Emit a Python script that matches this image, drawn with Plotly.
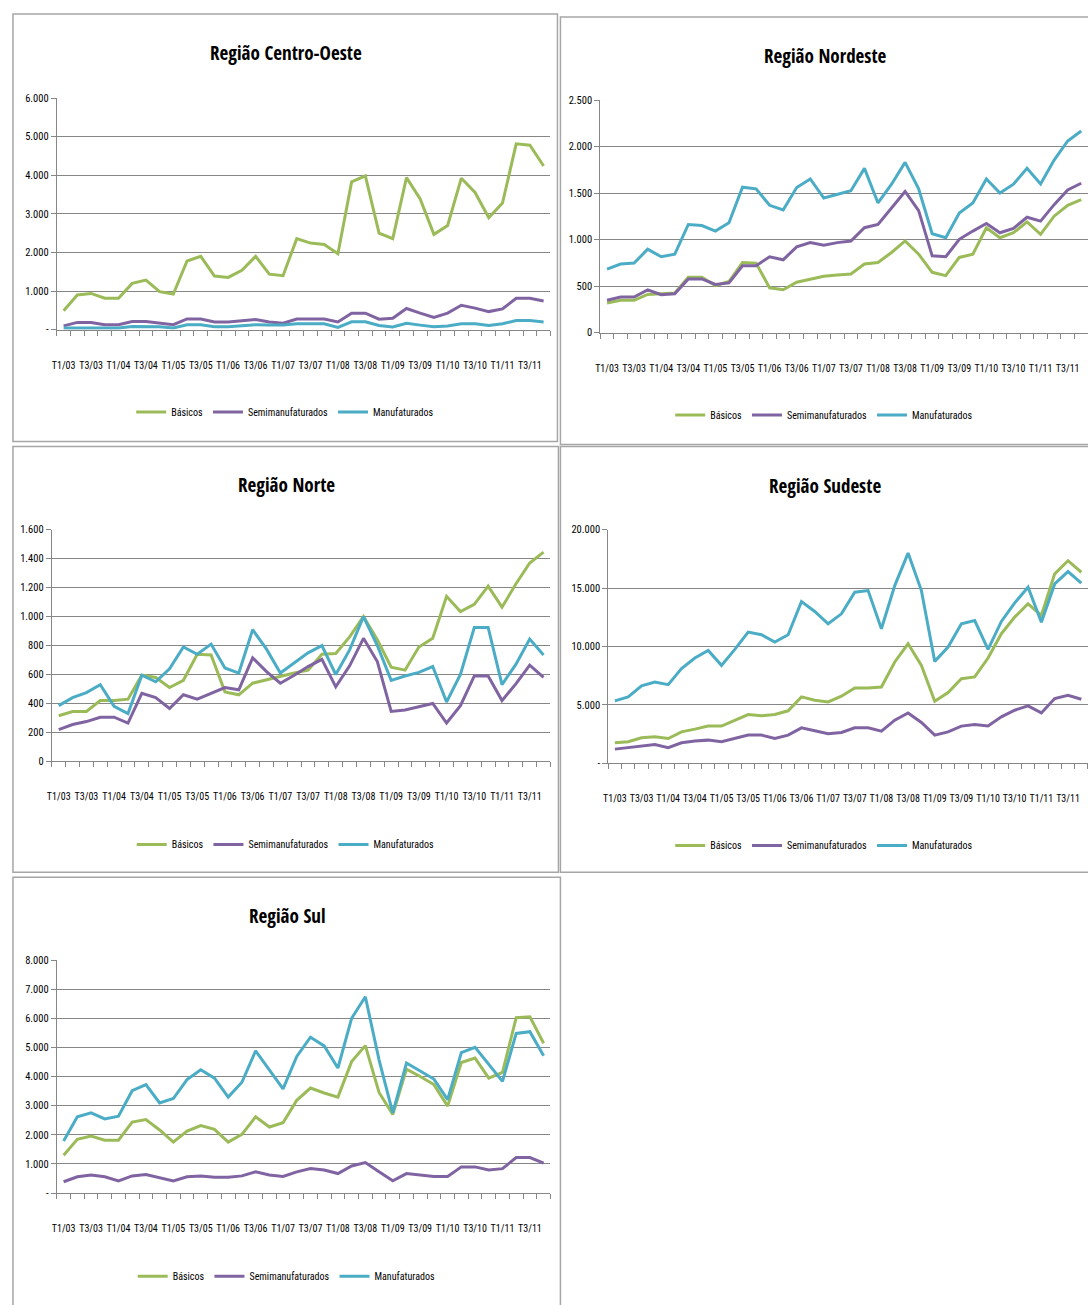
import numpy as np
import plotly.graph_objects as go

QUARTERS = [f"T{q}/{y:02d}" for y in range(3, 12) for q in range(1, 5)]
SERIES_NAMES = ["Básicos", "Semimanufaturados", "Manufaturados"]
COLORS = ["#9BBB59", "#8064A2", "#4BACC6"]

# ---- Região Centro-Oeste ----
co_basicos = [490, 900, 940, 815, 815, 1200, 1285, 985, 925, 1780, 1900, 1390, 1355, 1540, 1900, 1440,
              1400, 2360, 2245, 2210, 1970, 3830, 3985, 2500, 2360, 3940, 3385, 2470, 2700, 3925, 3555, 2900,
              3280, 4815, 4780, 4240]
co_semi = [100, 190, 190, 130, 130, 215, 215, 170, 130, 280, 280, 200, 200, 230, 265, 200,
           170, 275, 275, 275, 200, 430, 430, 275, 300, 550, 430, 320, 430, 635, 560, 470,
           540, 815, 815, 745]
co_manuf = [45, 45, 45, 45, 45, 85, 85, 75, 45, 130, 130, 75, 75, 110, 130, 120,
            120, 155, 155, 155, 60, 205, 205, 110, 70, 170, 120, 75, 100, 155, 155, 110,
            155, 240, 240, 200]

# ---- Região Nordeste ----
ne_basicos = [319, 348, 348, 411, 418, 426, 596, 596, 507, 550, 755, 748, 482, 461, 543, 578,
              606, 621, 631, 738, 755, 862, 986, 844, 649, 613, 809, 844, 1128, 1021, 1074, 1191,
              1057, 1252, 1369, 1429]
ne_semi = [348, 383, 383, 461, 408, 418, 578, 578, 518, 535, 720, 720, 816, 784, 922, 968,
           940, 968, 986, 1128, 1163, 1340, 1518, 1312, 826, 816, 1004, 1092, 1174, 1074, 1121, 1241,
           1199, 1376, 1535, 1606]
ne_manuf = [684, 738, 748, 897, 816, 844, 1163, 1152, 1092, 1181, 1564, 1546, 1369, 1319, 1560, 1652,
            1447, 1489, 1525, 1766, 1394, 1596, 1830, 1546, 1064, 1021, 1287, 1394, 1652, 1500, 1596, 1766,
            1599, 1855, 2060, 2167]

# ---- Região Norte ----
n_basicos = [315, 345, 345, 420, 420, 430, 595, 580, 510, 560, 740, 735, 480, 460, 540, 565,
             590, 610, 630, 740, 745, 860, 1000, 840, 650, 630, 790, 850, 1140, 1035, 1085, 1210,
             1065, 1225, 1370, 1445]
n_semi = [220, 255, 275, 305, 305, 265, 470, 440, 365, 460, 430, 470, 510, 495, 715, 620,
          540, 595, 655, 705, 515, 660, 850, 690, 345, 355, 375, 400, 265, 385, 590, 590,
          420, 535, 665, 580]
n_manuf = [385, 440, 475, 530, 380, 330, 595, 550, 640, 790, 740, 810, 645, 610, 910, 775,
           610, 680, 750, 800, 600, 770, 1000, 800, 560, 590, 615, 655, 410, 600, 925, 925,
           530, 670, 845, 735]

# ---- Região Sudeste ----
se_basicos = [1760, 1850, 2190, 2280, 2130, 2700, 2930, 3190, 3190, 3700, 4180, 4070, 4180, 4500, 5690, 5410,
              5260, 5750, 6460, 6460, 6540, 8680, 10240, 8390, 5320, 6060, 7250, 7400, 9020, 11100, 12520, 13660,
              12660, 16220, 17350, 16360]
se_semi = [1220, 1370, 1510, 1620, 1340, 1760, 1910, 1990, 1850, 2130, 2420, 2420, 2130, 2420, 3040, 2790,
           2530, 2650, 3040, 3040, 2760, 3700, 4320, 3500, 2420, 2700, 3190, 3330, 3210, 3980, 4550, 4920,
           4320, 5550, 5830, 5490]
se_manuf = [5350, 5690, 6630, 6970, 6740, 8110, 9020, 9670, 8390, 9760, 11240, 11010, 10380, 11010, 13850, 13000,
            11950, 12800, 14650, 14790, 11520, 15220, 18000, 14790, 8730, 9960, 11950, 12230, 9760, 12150, 13740, 15080,
            12090, 15360, 16420, 15420]

# ---- Região Sul ----
s_basicos = [1300, 1850, 1960, 1820, 1820, 2440, 2530, 2170, 1750, 2130, 2320, 2190, 1750, 2020, 2620, 2270,
             2420, 3190, 3610, 3440, 3300, 4520, 5070, 3460, 2700, 4260, 4010, 3730, 2990, 4490, 4640, 3950,
             4150, 6030, 6060, 5150]
s_semi = [390, 560, 620, 560, 420, 590, 640, 540, 420, 560, 590, 540, 540, 590, 730, 620,
          570, 730, 840, 790, 670, 930, 1050, 730, 420, 670, 620, 570, 570, 900, 900, 790,
          840, 1220, 1220, 1030]
s_manuf = [1790, 2620, 2760, 2550, 2640, 3520, 3730, 3100, 3250, 3900, 4240, 3950, 3300, 3810, 4890, 4240,
           3580, 4700, 5360, 5060, 4300, 6010, 6750, 4580, 2760, 4470, 4180, 3920, 3210, 4830, 5010, 4410,
           3840, 5490, 5550, 4720]

# y tick labels per region
co_ticks = [0, 1000, 2000, 3000, 4000, 5000, 6000]
co_ticktext = ["-", "1.000", "2.000", "3.000", "4.000", "5.000", "6.000"]
ne_ticks = [0, 500, 1000, 1500, 2000, 2500]
ne_ticktext = ["0", "500", "1.000", "1.500", "2.000", "2.500"]
n_ticks = [0, 200, 400, 600, 800, 1000, 1200, 1400, 1600]
n_ticktext = ["0", "200", "400", "600", "800", "1.000", "1.200", "1.400", "1.600"]
se_ticks = [0, 5000, 10000, 15000, 20000]
se_ticktext = ["-", "5.000", "10.000", "15.000", "20.000"]
s_ticks = [0, 1000, 2000, 3000, 4000, 5000, 6000, 7000, 8000]
s_ticktext = ["-", "1.000", "2.000", "3.000", "4.000", "5.000", "6.000", "7.000", "8.000"]

W, H = 1088, 1305
FONT = "Roboto Condensed, DejaVu Sans Condensed, sans-serif"
TFONT = "Open Sans Condensed, Roboto Condensed, sans-serif"
GRID = "#868686"


def px(x):
    return min(max(x / W, 0), 1)


def py(y):
    return min(max(1 - y / H, 0), 1)


panels = [
    # title, series, ticks, ticktext, box(x0,y0,x1,y1), plot(x0,x1,ytop,ybottom), title y, legend y  (page px)
    ("Região Centro-Oeste", [co_basicos, co_semi, co_manuf], co_ticks, co_ticktext,
     (8, 8, 555, 440), (52, 548, 93, 327), 47, 410),
    ("Região Nordeste", [ne_basicos, ne_semi, ne_manuf], ne_ticks, ne_ticktext,
     (558, 11, 1100, 443), (598, 1088, 95, 330), 50, 413),
    ("Região Norte", [n_basicos, n_semi, n_manuf], n_ticks, n_ticktext,
     (8, 445, 556, 875), (47, 548, 529, 763), 484, 847),
    ("Região Sudeste", [se_basicos, se_semi, se_manuf], se_ticks, se_ticktext,
     (558, 445, 1100, 875), (606, 1088, 529, 765), 485, 848),
    ("Região Sul", [s_basicos, s_semi, s_manuf], s_ticks, s_ticktext,
     (8, 880, 558, 1320), (52, 548, 964, 1199), 919, 1283),
]

x_idx = np.arange(len(QUARTERS))
fig = go.Figure()
shapes = []
annotations = []
layout = {}

for i, (title, series, ticks, ticktext, box, plot, ty, ly) in enumerate(panels):
    n = i + 1
    xa = "x" if n == 1 else f"x{n}"
    ya = "y" if n == 1 else f"y{n}"
    leg = "legend" if n == 1 else f"legend{n}"
    for name, vals, col in zip(SERIES_NAMES, series, COLORS):
        fig.add_trace(go.Scatter(
            x=x_idx, y=vals, name=name, mode="lines",
            line=dict(color=col, width=3), xaxis=xa, yaxis=ya, legend=leg,
            text=QUARTERS, hovertemplate="%{text}: %{y}<extra>" + name + "</extra>",
        ))
    px0, px1, pyt, pyb = plot
    cx = (box[0] + min(box[2], W)) / 2
    layout[("xaxis" if n == 1 else f"xaxis{n}")] = dict(
        domain=[px(px0), px(px1)], anchor=ya,
        range=[-0.5, len(QUARTERS) - 0.5],
        tickmode="array", tickvals=list(x_idx[::2]), ticktext=QUARTERS[::2],
        ticks="", showgrid=False, zeroline=False, tickangle=0,
        showline=True, linecolor=GRID, linewidth=1,
        tickfont=dict(family=FONT, size=10, color="#000"),
        ticklabelstandoff=26,
        minor=dict(tickmode="array", tickvals=list(np.arange(-0.5, len(QUARTERS), 1.0)),
                   ticks="outside", ticklen=5, tickcolor=GRID, tickwidth=1, showgrid=False),
    )
    layout[("yaxis" if n == 1 else f"yaxis{n}")] = dict(
        domain=[py(pyb), py(pyt)], anchor=xa,
        range=[0, ticks[-1]], tickmode="array", tickvals=ticks, ticktext=ticktext,
        showgrid=True, gridcolor=GRID, gridwidth=1, zeroline=False,
        showline=True, linecolor=GRID, linewidth=1,
        ticks="outside", ticklen=5, tickcolor=GRID,
        tickfont=dict(family=FONT, size=10.5, color="#000"),
    )
    layout[leg] = dict(
        orientation="h", x=px(cx), xanchor="center",
        y=py(ly), yanchor="middle", bgcolor="rgba(0,0,0,0)",
        font=dict(family=FONT, size=10, color="#000"), itemwidth=30,
        tracegroupgap=0,
    )
    shapes.append(dict(type="rect", xref="paper", yref="paper",
                       x0=box[0] / W, x1=box[2] / W,
                       y0=1 - box[3] / H, y1=1 - box[1] / H,
                       line=dict(color="#A6A6A6", width=1.5), fillcolor="rgba(0,0,0,0)"))
    annotations.append(dict(text=f"<b>{title}</b>", xref="paper", yref="paper",
                            x=px(cx + 1), y=py(ty),
                            xanchor="center", yanchor="middle", showarrow=False,
                            font=dict(family=TFONT, size=19, color="#000")))

fig.update_layout(
    width=W, height=H, margin=dict(l=0, r=0, t=0, b=0),
    paper_bgcolor="white", plot_bgcolor="white",
    shapes=shapes, annotations=annotations, showlegend=True,
    **layout,
)
fig.write_html("out.html")
